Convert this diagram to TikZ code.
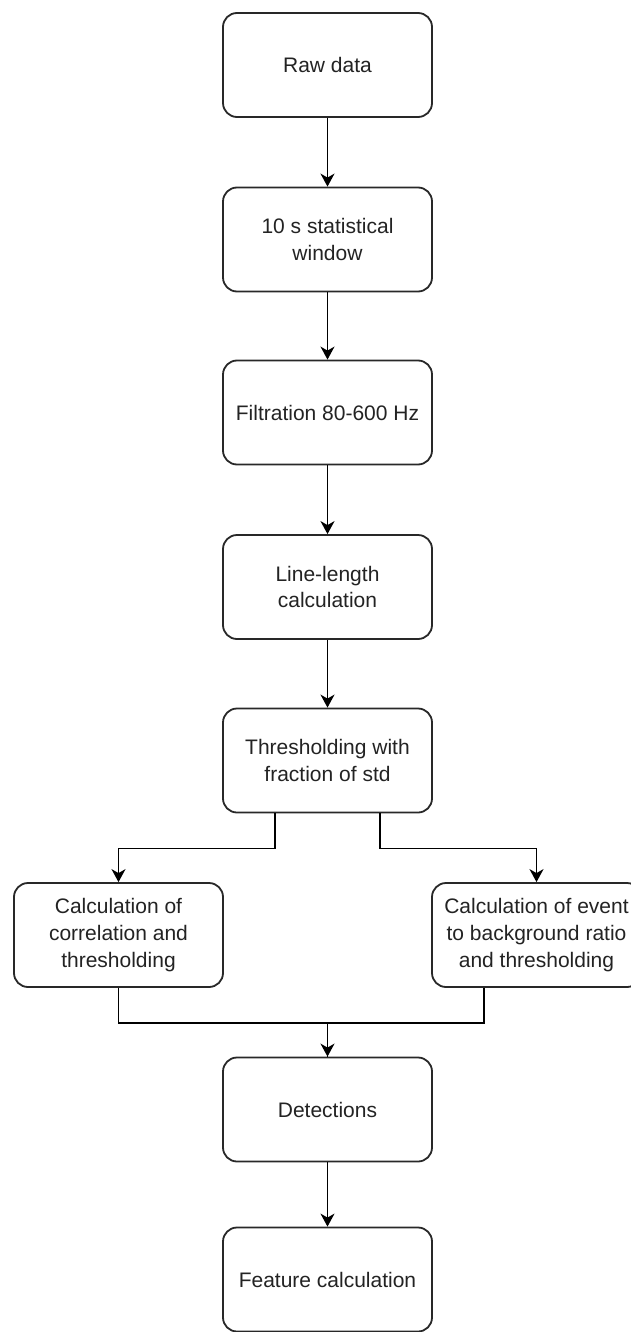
\documentclass[tikz,border=0pt]{standalone}
\usepackage{fontspec}
\setmainfont{Liberation Sans}
\usetikzlibrary{arrows.meta,positioning}
\definecolor{boxline}{RGB}{40,40,40}
\definecolor{boxtext}{RGB}{35,35,35}

\tikzset{
  stepbox/.style={draw=boxline, line width=0.9pt, rounded corners=7pt, fill=white,
    minimum width=104.5pt, minimum height=52pt, align=center, text=boxtext,
    font=\fontsize{10.5}{13.3}\selectfont},
  arrow/.style={draw=black, line width=0.8pt, -{Stealth[length=6.5pt,width=7pt,inset=2pt]}},
  line/.style={draw=black, line width=0.8pt}
}

\begin{document}
\begin{tikzpicture}[x=0.5pt,y=-0.5pt]
\useasboundingbox (0,0) rectangle (631,1332);
% main column
\node[stepbox] (raw) at (327.5,65) {Raw data};
\node[stepbox] (win) at (327.5,239.5) {10 s statistical\\window};
\node[stepbox] (filt) at (327.5,412.5) {Filtration 80-600 Hz};
\node[stepbox] (len) at (327.5,587) {Line-length\\calculation};
\node[stepbox] (thr) at (327.5,760.5) {Thresholding with\\fraction of std};
% two branches
\node[stepbox] (corr) at (118.5,935) {Calculation of\\correlation and\\thresholding};
\node[stepbox] (ebr) at (536.5,935) {Calculation of event\\to background ratio\\and thresholding};
% bottom
\node[stepbox] (det) at (327.5,1109.5) {Detections};
\node[stepbox] (feat) at (327.5,1279.5) {Feature calculation};

\draw[arrow] (raw) -- (win);
\draw[arrow] (win) -- (filt);
\draw[arrow] (filt) -- (len);
\draw[arrow] (len) -- (thr);
\draw[arrow] (thr.south) ++(-52.5,0) -- ++(0,35) -| (corr.north);
\draw[arrow] (thr.south) ++(52.5,0) -- ++(0,35) -| (ebr.north);
\draw[arrow] (corr.south) -- ++(0,35) -| (det.north);
\draw[line] (ebr.south) ++(-52.5,0) -- ++(0,35) -| (det.north);
\draw[arrow] (det) -- (feat);
\end{tikzpicture}
\end{document}
